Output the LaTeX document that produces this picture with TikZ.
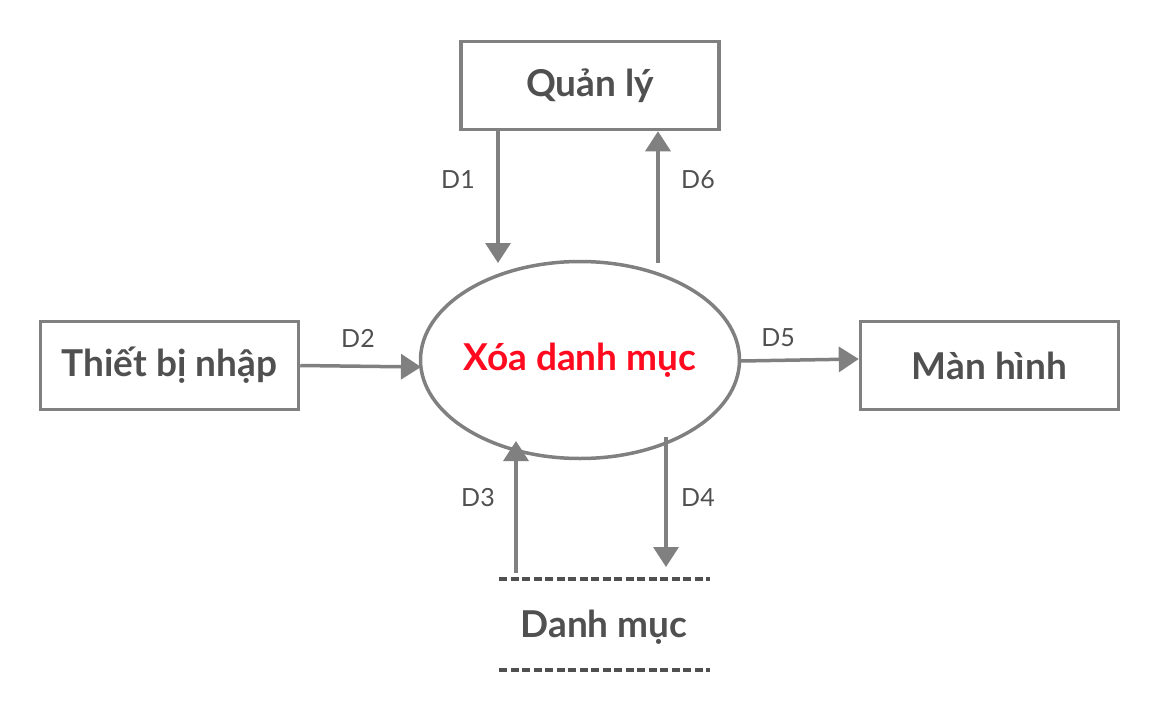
\documentclass[tikz,border=0pt]{standalone}
\usepackage{fontspec}
\setmainfont{Lato}
\usetikzlibrary{arrows.meta,shapes.geometric}
\definecolor{linegray}{HTML}{808080}
\definecolor{textgray}{HTML}{505050}
\definecolor{procred}{HTML}{FF0A1E}
\tikzset{
  entity/.style={draw=linegray, line width=3.5pt, minimum width=258pt, minimum height=88pt, inner sep=0pt,
    font=\fontsize{37}{44}\selectfont\bfseries, text=textgray},
  proc/.style={draw=linegray, line width=3.5pt, ellipse, minimum width=319pt, minimum height=197pt,
    inner xsep=-40pt, inner ysep=0pt,
    font=\fontsize{37}{44}\selectfont\bfseries, text=procred},
  flow/.style={draw=linegray, line width=3.5pt, -{Triangle[width=25pt,length=20pt]}},
  flowlabel/.style={font=\fontsize{25}{30}\selectfont, text=textgray},
  storeline/.style={draw=textgray, line width=3.5pt, dash pattern=on 8pt off 3.5pt},
  storetext/.style={font=\fontsize{37}{44}\selectfont\bfseries, text=textgray}
}
\begin{document}
\begin{tikzpicture}[x=1pt,y=-1pt]
\useasboundingbox (0,0) rectangle (1160,712);
\node[entity] (ql) at (590,85.5) {Quản lý};
\node[entity] (tb) at (169.5,365.5) {Thiết bị nhập};
\node[entity] (mh) at (989.5,365.5) {Màn hình};
\node[proc] (p) at (580,360) {Xóa danh mục};
\node[storetext] (dm) at (604,627) {Danh mục};
\coordinate (s1l) at (499,579); \coordinate (s1r) at (710,579);
\coordinate (s2l) at (499,670); \coordinate (s2r) at (710,670);
\draw[storeline] (s1l) -- (s1r);
\draw[storeline] (s2l) -- (s2r);
% D1
\coordinate (d1s) at (ql.south -| 498,0);
\coordinate (d1e) at (498,263);
\draw[flow] (d1s) -- (d1e);
\node[flowlabel] (l1) at (458,180) {D1};
% D6
\coordinate (d6s) at (658,263);
\coordinate (d6e) at (ql.south -| 658,0);
\draw[flow] (d6s) -- (d6e);
\node[flowlabel] (l6) at (698,180) {D6};
% D2
\coordinate (d2e) at (421,367);
\draw[flow] (tb.east) -- (d2e);
\node[flowlabel] (l2) at (358,338) {D2};
% D5
\coordinate (d5s) at (741,361);
\coordinate (d5e) at (mh.west |- 0,359);
\draw[flow] (d5s) -- (d5e);
\node[flowlabel] (l5) at (778,338) {D5};
% D3
\coordinate (d3s) at (516,573);
\coordinate (d3e) at (516,441);
\draw[flow] (d3s) -- (d3e);
\node[flowlabel] (l3) at (478,498) {D3};
% D4
\coordinate (d4s) at (666,437);
\coordinate (d4e) at (666,567);
\draw[flow] (d4s) -- (d4e);
\node[flowlabel] (l4) at (698,498) {D4};
\end{tikzpicture}
\end{document}
